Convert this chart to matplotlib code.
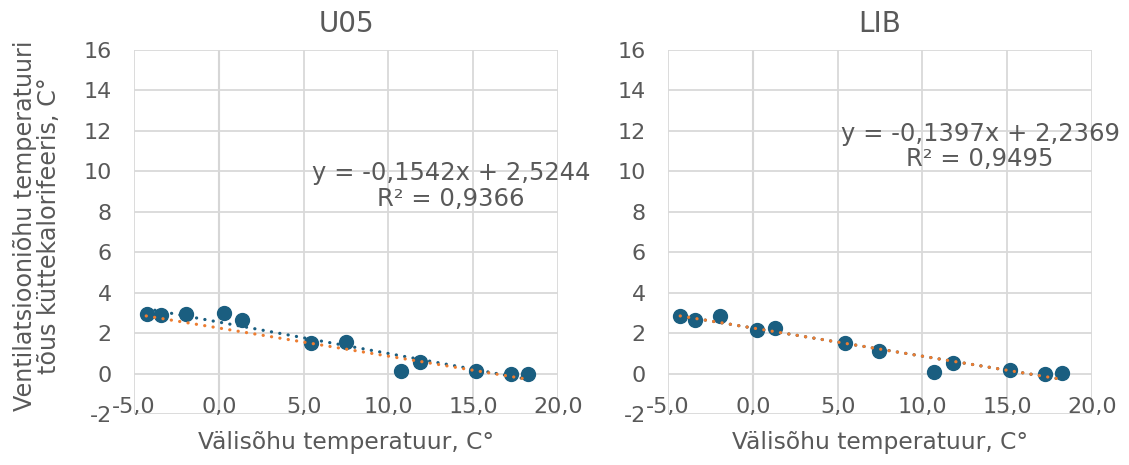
import numpy as np
import matplotlib
matplotlib.use("Agg")
import matplotlib.pyplot as plt

plt.rcParams['font.family'] = ['DejaVu Sans']

# ---- data ----
u05_x = [-4.26, -3.42, -1.91, 0.29, 1.36, 5.41, 7.49, 10.73, 11.85, 15.19, 17.22, 18.26]
u05_y = [2.95, 2.90, 2.96, 3.00, 2.63, 1.51, 1.58, 0.13, 0.59, 0.15, 0.00, 0.00]
lib_x = [-4.28, -3.42, -1.91, 0.26, 1.30, 5.43, 7.47, 10.70, 11.80, 15.18, 17.20, 18.26]
lib_y = [2.83, 2.63, 2.83, 2.17, 2.27, 1.51, 1.12, 0.08, 0.53, 0.18, 0.00, 0.02]

titles = ["U05", "LIB"]
eq_texts = ["y = -0,1542x + 2,5244\nR² = 0,9366", "y = -0,1397x + 2,2369\nR² = 0,9495"]
eq_pos = [(13.7, 9.28), (13.4, 11.23)]
x_ticks = [-5, 0, 5, 10, 15, 20]
x_ticklabels = ["-5,0", "0,0", "5,0", "10,0", "15,0", "20,0"]
y_ticks = [-2, 0, 2, 4, 6, 8, 10, 12, 14, 16]
xlabel = "Välisõhu temperatuur, C°"
ylabel = "Ventilatsiooniõhu temperatuuri\ntõus küttekalorifeeris, C°"

BLUE = "#1a5e80"
ORANGE = "#ed7d31"
TXT = "#595959"
GRID = "#d9d9d9"
FS = 16

W, H = 1129, 465
fig = plt.figure(figsize=(W / 100, H / 100), dpi=100)

axes_px = [(134, 558), (668, 1092)]
top_px, bot_px = 50, 414


def fit_line(x, y):
    k, b = np.polyfit(x, y, 1)
    xs = np.linspace(min(x), max(x), 100)
    return xs, k * xs + b

lib_fit = fit_line(lib_x, lib_y)
series = [(u05_x, u05_y), (lib_x, lib_y)]

for i, (xl, xr) in enumerate(axes_px):
    ax = fig.add_axes([xl / W, 1 - bot_px / H, (xr - xl) / W, (bot_px - top_px) / H])
    ax.set_xlim(-5, 20)
    ax.set_ylim(-2, 16)
    for s in ax.spines.values():
        s.set_visible(False)
    ax.set_xticks(x_ticks)
    ax.set_yticks(y_ticks)
    ax.grid(True, color=GRID, linewidth=1.3, zorder=0)
    ax.axvline(0, color="#bfbfbf", linewidth=1.5, zorder=1)
    ax.tick_params(length=0)
    ax.set_xticklabels([])
    ax.set_yticklabels([str(v) for v in y_ticks], fontsize=FS, color=TXT)
    ax.tick_params(axis='y', pad=16)
    for t, lab in zip(x_ticks, x_ticklabels):
        ax.text(t, 0.019, lab, transform=ax.get_xaxis_transform(), ha='center', va='center',
                fontsize=FS, color=TXT, clip_on=False)

    x, y = series[i]
    ax.plot(x, y, 'o', color=BLUE, markersize=10, zorder=3, clip_on=False)
    fx, fy = fit_line(x, y)
    ax.plot(fx, fy, color=BLUE, linewidth=2.3, linestyle=(0, (0.05, 2.6)),
            dash_capstyle='round', zorder=4)
    ax.plot(lib_fit[0], lib_fit[1], color=ORANGE, linewidth=2.3, linestyle=(0, (0.05, 2.6)),
            dash_capstyle='round', zorder=5)

    cx = (xl + xr) / 2 / W
    fig.text(cx, 1 - 24 / H, titles[i], ha='center', va='center', fontsize=20, color=TXT)
    fig.text(cx, 1 - 442 / H, xlabel, ha='center', va='center', fontsize=16.8, color=TXT)
    ax.text(eq_pos[i][0], eq_pos[i][1], eq_texts[i], ha='center', va='center',
            fontsize=17.5, color=TXT, linespacing=1.1, zorder=6)

fig.text(37 / W, 1 - 226 / H, ylabel, ha='center', va='center', rotation=90,
         fontsize=17.2, color=TXT, linespacing=1.0)

fig.savefig("out.png", dpi=100)
